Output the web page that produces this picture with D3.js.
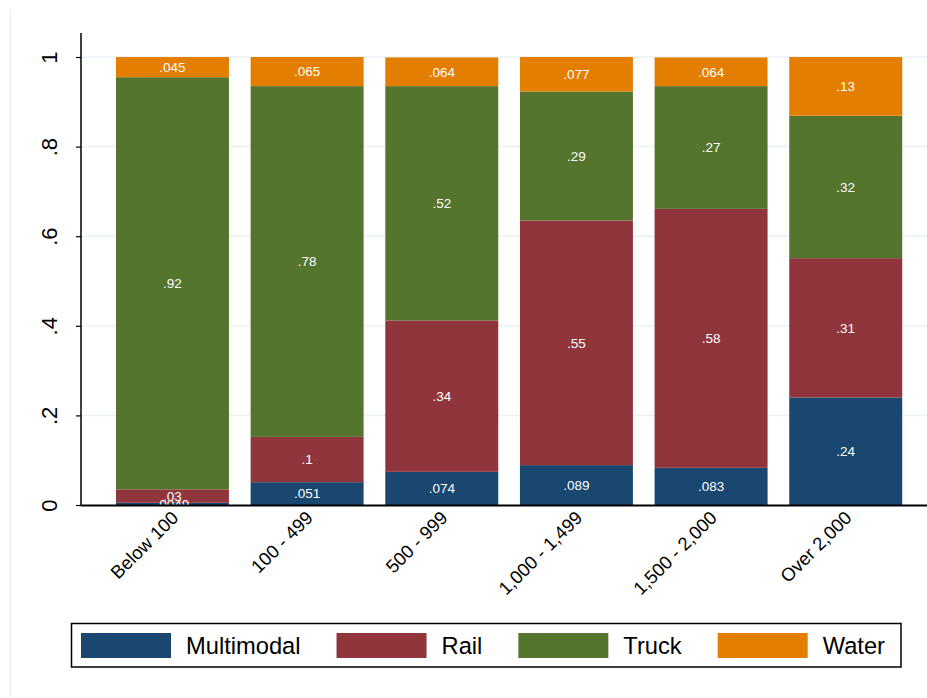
<!DOCTYPE html>
<html>
<head>
<meta charset="utf-8">
<script src="https://cdn.jsdelivr.net/npm/d3@7"></script>
<style>
  html, body { margin: 0; padding: 0; background: #ffffff; }
  svg { display: block; font-family: "Liberation Sans", Arial, Helvetica, sans-serif; }
</style>
</head>
<body>
<svg id="chart" width="927" height="698"></svg>
<script>
// ---- Data ----
const categories = ["Below 100", "100 - 499", "500 - 999", "1,000 - 1,499", "1,500 - 2,000", "Over 2,000"];
const seriesNames = ["Multimodal", "Rail", "Truck", "Water"];
const multimodal = [0.0049, 0.051, 0.074, 0.089, 0.083, 0.240];
const rail       = [0.030,  0.101, 0.338, 0.546, 0.578, 0.311];
const truck      = [0.920,  0.783, 0.523, 0.288, 0.274, 0.318];
const water      = [0.045,  0.065, 0.064, 0.077, 0.064, 0.131];
const yTicks = [0, 0.2, 0.4, 0.6, 0.8, 1];
const yTickLabels = ["0", ".2", ".4", ".6", ".8", "1"];
const colors = ["#1a476f", "#90353b", "#55752f", "#e37e00"];

// ---- Build table ----
const seriesValues = [multimodal, rail, truck, water];
const table = categories.map((c, i) => {
  const row = { category: c };
  seriesNames.forEach((s, j) => row[s] = seriesValues[j][i]);
  return row;
});
const stacked = d3.stack().keys(seriesNames)(table);

const svg = d3.select("#chart");

// faint outer border line on left
svg.append("line").attr("x1", 10.5).attr("x2", 10.5).attr("y1", 9).attr("y2", 698)
  .attr("stroke", "#ececec").attr("stroke-width", 1);

const axisX = 81, plotRight = 927;
const x = d3.scaleBand().domain(categories).range([105.2, 913]).paddingInner(0.161).paddingOuter(0.08);
const y = d3.scaleLinear().domain([0, 1]).range([505, 57]);

// gridlines
svg.append("g").selectAll("line").data(yTicks.filter(t => t > 0)).join("line")
  .attr("x1", axisX).attr("x2", plotRight)
  .attr("y1", d => y(d)).attr("y2", d => y(d))
  .attr("stroke", "#eaf2f3").attr("stroke-width", 1.5);

// bars
const layers = svg.append("g").selectAll("g").data(stacked).join("g")
  .attr("fill", (d, i) => colors[i]);
layers.selectAll("rect").data(d => d).join("rect")
  .attr("x", d => x(d.data.category))
  .attr("width", x.bandwidth())
  .attr("y", d => y(d[1]))
  .attr("height", d => y(d[0]) - y(d[1]));

// value labels
const fmt = v => d3.format(".2~r")(v).replace(/^0\./, ".");
const labelG = svg.append("g");
stacked.forEach(layer => {
  labelG.selectAll(null).data(layer).join("text")
    .attr("x", d => x(d.data.category) + x.bandwidth() / 2)
    .attr("y", d => (y(d[0]) + y(d[1])) / 2)
    .attr("dy", "0.35em")
    .attr("text-anchor", "middle")
    .attr("fill", "#ffffff")
    .attr("font-size", 13.5)
    .text(d => fmt(d[1] - d[0]));
});

// y axis
const yAxis = d3.axisLeft(y).tickValues(yTicks).tickFormat((d, i) => yTickLabels[i]).tickSize(5).tickPadding(0);
const yg = svg.append("g").attr("transform", `translate(${axisX},0)`).call(yAxis);
yg.select(".domain").remove();
yg.selectAll(".tick line").attr("stroke", "#000").attr("stroke-width", 1.2);
yg.selectAll(".tick text")
  .attr("x", 0).attr("dy", 0)
  .attr("transform", "translate(-24,0) rotate(-90)")
  .attr("text-anchor", "middle")
  .attr("font-size", 22)
  .attr("fill", "#000")
  .attr("font-family", "'Liberation Sans', Arial, sans-serif");
svg.append("line").attr("x1", axisX).attr("x2", axisX).attr("y1", 33).attr("y2", 505)
  .attr("stroke", "#000").attr("stroke-width", 1.5);

// x axis
const xAxis = d3.axisBottom(x).tickSize(0).tickPadding(0);
const xg = svg.append("g").attr("transform", "translate(0,505)").call(xAxis);
xg.select(".domain").remove();
xg.selectAll(".tick text")
  .attr("y", 0).attr("dy", 0)
  .attr("transform", "translate(7,14) rotate(-45)")
  .attr("text-anchor", "end")
  .attr("font-size", 18.5)
  .attr("fill", "#000")
  .attr("font-family", "'Liberation Sans', Arial, sans-serif");
svg.append("line").attr("x1", axisX).attr("x2", plotRight).attr("y1", 505.5).attr("y2", 505.5)
  .attr("stroke", "#000").attr("stroke-width", 2);

// legend
const lg = svg.append("g");
lg.append("rect").attr("x", 71.5).attr("y", 623.5).attr("width", 829.5).attr("height", 43.5)
  .attr("fill", "#fff").attr("stroke", "#000").attr("stroke-width", 1.5);
let cx = 81;
seriesNames.forEach((s, i) => {
  lg.append("rect").attr("x", cx).attr("y", 633).attr("width", 90).attr("height", 25).attr("fill", colors[i]);
  const t = lg.append("text").attr("x", cx + 105).attr("y", 654)
    .attr("font-size", 23.7).attr("fill", "#000").text(s);
  const w = t.node().getComputedTextLength();
  cx = cx + 105 + w + 36;
});
</script>
</body>
</html>
